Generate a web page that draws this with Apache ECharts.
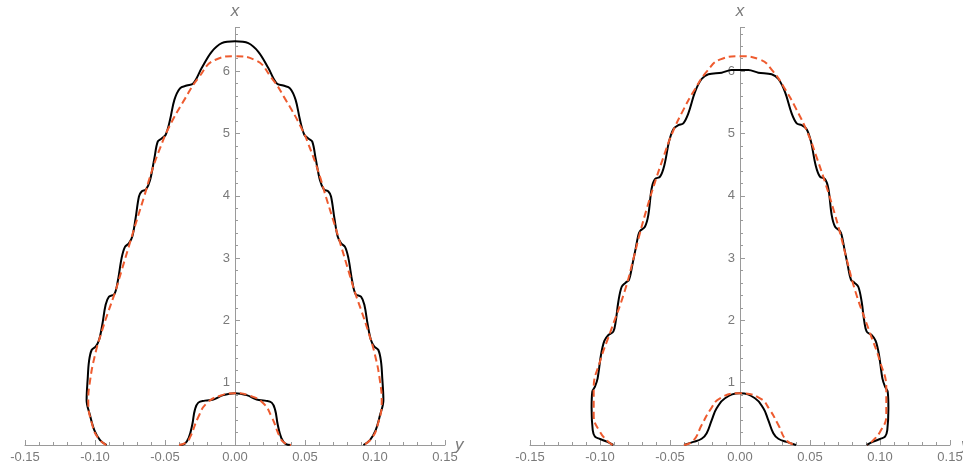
<!DOCTYPE html>
<html>
<head>
<meta charset="utf-8">
<script src="https://cdn.jsdelivr.net/npm/echarts@6/dist/echarts.min.js"></script>
<style>
html,body{margin:0;padding:0;background:#fff;}
#main{width:963px;height:469px;}
</style>
</head>
<body>
<div id="main"></div>
<script>
// half curves: [y, x], from the base up to the top (y = 0)
var leftOuterSolid = [
	[-0.0917, 0.00], [-0.0964, 0.08], [-0.1005, 0.24], [-0.1036, 0.48], [-0.1060, 0.72],
	[-0.1052, 1.07], [-0.1043, 1.34], [-0.1024, 1.525], [-0.0995, 1.58], [-0.0971, 1.685],
	[-0.0948, 1.93], [-0.0924, 2.25], [-0.0900, 2.38], [-0.0862, 2.42], [-0.0838, 2.62],
	[-0.0810, 3.00], [-0.0786, 3.18], [-0.0757, 3.24], [-0.0733, 3.35], [-0.0710, 3.64],
	[-0.0686, 3.99], [-0.0667, 4.07], [-0.0636, 4.10], [-0.0607, 4.25], [-0.0576, 4.60],
	[-0.0552, 4.87], [-0.0524, 4.92], [-0.0495, 4.98], [-0.0464, 5.22], [-0.0433, 5.54],
	[-0.0393, 5.725], [-0.0345, 5.77], [-0.0298, 5.805], [-0.0238, 6.05], [-0.0167, 6.31],
	[-0.0095, 6.45], [0, 6.48]
];
var leftOuterDashed = [
	[-0.0920, 0.00], [-0.0976, 0.107], [-0.1019, 0.32], [-0.1048, 0.70], [-0.1036, 1.02],
	[-0.1000, 1.445], [-0.0952, 1.82], [-0.0905, 2.14], [-0.0857, 2.45], [-0.0810, 2.80],
	[-0.0750, 3.25], [-0.0700, 3.62], [-0.0650, 3.98], [-0.0595, 4.39], [-0.0536, 4.76],
	[-0.0476, 5.08], [-0.0357, 5.56], [-0.0262, 5.89], [-0.0143, 6.18], [0, 6.24]
];
var leftInnerSolid = [
	[-0.0400, 0.00], [-0.0360, 0.018], [-0.0330, 0.12], [-0.0305, 0.33], [-0.0287, 0.56],
	[-0.0262, 0.68], [-0.0214, 0.712], [-0.0155, 0.73], [-0.0083, 0.80], [0, 0.83]
];
var leftInnerDashed = [
	[-0.0400, 0.00], [-0.0350, 0.04], [-0.0320, 0.13], [-0.0262, 0.45], [-0.0202, 0.67],
	[-0.0107, 0.79], [0, 0.83]
];
var rightOuterSolid = [
	[-0.0905, 0.00], [-0.0952, 0.053], [-0.1000, 0.096], [-0.1036, 0.134], [-0.1052, 0.24],
	[-0.1060, 0.59], [-0.1055, 0.856], [-0.1036, 0.936], [-0.1017, 1.07], [-0.0993, 1.445],
	[-0.0969, 1.67], [-0.0940, 1.766], [-0.0905, 1.82], [-0.0888, 1.98], [-0.0869, 2.30],
	[-0.0845, 2.54], [-0.0817, 2.606], [-0.0793, 2.65], [-0.0769, 2.89], [-0.0745, 3.157],
	[-0.0726, 3.37], [-0.0714, 3.435], [-0.0679, 3.504], [-0.0655, 3.69], [-0.0631, 4.12],
	[-0.0607, 4.27], [-0.0571, 4.307], [-0.0540, 4.494], [-0.0507, 4.87], [-0.0476, 5.07],
	[-0.0440, 5.136], [-0.0405, 5.163], [-0.0369, 5.324], [-0.0321, 5.67], [-0.0274, 5.875],
	[-0.0226, 5.95], [-0.0131, 5.976], [-0.0060, 6.019], [0, 6.02]
];
var rightOuterDashed = [
	[-0.0910, 0.00], [-0.0940, 0.05], [-0.1000, 0.21], [-0.1045, 0.48], [-0.1045, 0.90],
	[-0.1000, 1.34], [-0.0925, 1.82], [-0.0825, 2.46], [-0.0760, 3.00], [-0.0715, 3.40],
	[-0.0665, 3.80], [-0.0610, 4.20], [-0.0550, 4.60], [-0.0485, 5.00], [-0.0400, 5.40],
	[-0.0325, 5.70], [-0.0235, 6.00], [-0.0140, 6.19], [0, 6.24]
];
var rightInnerSolid = [
	[-0.0400, 0.00], [-0.0333, 0.05], [-0.0274, 0.10], [-0.0238, 0.19], [-0.0202, 0.40],
	[-0.0167, 0.59], [-0.0107, 0.75], [0, 0.83]
];
var rightInnerDashed = [
	[-0.0400, 0.00], [-0.0333, 0.07], [-0.0274, 0.32], [-0.0214, 0.56], [-0.0143, 0.75],
	[0, 0.83]
];
var xTickMin = -0.15, xTickMax = 0.15, xTickStep = 0.05;
var yTickMin = 0, yTickMax = 6.7, yTickStep = 1;

// mirror the half curve about y = 0 so the shape is closed over the top
function mirror(half) {
	var back = half.slice(0, -1).reverse().map(function (p) { return [-p[0], p[1]]; });
	return half.concat(back);
}

var axisGray = '#9a9a9a', labelGray = '#7a7a7a';
var solidStyle = { color: '#000', width: 2 };
var dashStyle = { color: '#ee5b2f', width: 2, type: [7, 4] };

function xAxisOf(idx, gap) {
	return {
		gridIndex: idx, type: 'value', min: xTickMin, max: xTickMax, interval: xTickStep,
		name: 'y', nameLocation: 'end', nameGap: gap, nameMoveOverlap: false,
		nameTextStyle: { color: labelGray, fontStyle: 'italic', fontSize: 17, fontFamily: 'Liberation Sans' },
		splitLine: { show: false },
		axisLine: { lineStyle: { color: axisGray, width: 1 } },
		axisTick: { inside: true, length: 5, lineStyle: { color: axisGray } },
		minorTick: { show: true, splitNumber: 5, length: 3, lineStyle: { color: axisGray } },
		axisLabel: {
			color: labelGray, fontSize: 13, margin: 6, fontFamily: 'Liberation Sans',
			formatter: function (v) { return v.toFixed(2); }
		}
	};
}
function yAxisOf(idx) {
	return {
		gridIndex: idx, type: 'value', min: yTickMin, max: yTickMax, interval: yTickStep,
		position: 'left', offset: -210,
		name: 'x', nameLocation: 'end', nameGap: 8, nameMoveOverlap: false,
		nameTextStyle: { color: labelGray, fontStyle: 'italic', fontSize: 17, fontFamily: 'Liberation Sans' },
		splitLine: { show: false },
		axisLine: { onZero: false, lineStyle: { color: axisGray, width: 1 } },
		axisTick: { inside: true, length: 5, lineStyle: { color: axisGray } },
		minorTick: { show: true, splitNumber: 5, length: 3, lineStyle: { color: axisGray } },
		axisLabel: {
			color: labelGray, fontSize: 13, margin: 5, fontFamily: 'Liberation Sans',
			formatter: function (v) { return (v > 0 && Math.abs(v - Math.round(v)) < 1e-9) ? String(Math.round(v)) : ''; }
		}
	};
}
function curve(data, idx, style, smooth) {
	return {
		type: 'line', xAxisIndex: idx, yAxisIndex: idx, data: mirror(data),
		showSymbol: false, symbol: 'none', smooth: smooth, clip: false,
		lineStyle: style, silent: true
	};
}

var chart = echarts.init(document.getElementById('main'));
chart.setOption({
	animation: false,
	backgroundColor: '#fff',
	grid: [
		{ left: 25, width: 420, top: 27.6, height: 417.4, outerBoundsMode: 'none', containLabel: false },
		{ left: 530, width: 420, top: 27.6, height: 417.4, outerBoundsMode: 'none', containLabel: false }
	],
	xAxis: [xAxisOf(0, 10), xAxisOf(1, 11)],
	yAxis: [yAxisOf(0), yAxisOf(1)],
	series: [
		curve(leftOuterSolid, 0, solidStyle, 0.35),
		curve(leftInnerSolid, 0, solidStyle, 0.45),
		curve(leftOuterDashed, 0, dashStyle, 0.5),
		curve(leftInnerDashed, 0, dashStyle, 0.5),
		curve(rightOuterSolid, 1, solidStyle, 0.35),
		curve(rightInnerSolid, 1, solidStyle, 0.45),
		curve(rightOuterDashed, 1, dashStyle, 0.5),
		curve(rightInnerDashed, 1, dashStyle, 0.5)
	]
});
</script>
</body>
</html>
